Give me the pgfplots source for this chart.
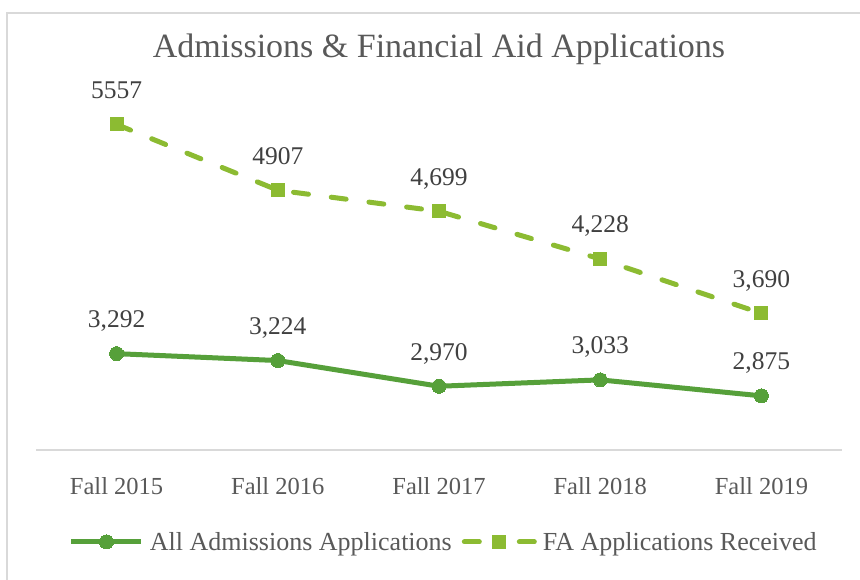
\documentclass[border=0pt]{standalone}
\usepackage{pgfplots}
\pgfplotsset{compat=1.18}
\usepackage{pgfplotstable}
\usepackage{fontspec}
\setmainfont{Liberation Serif}
\definecolor{adm}{RGB}{86,160,58}
\definecolor{fa}{RGB}{140,187,50}
\definecolor{txt}{RGB}{64,64,64}
\definecolor{ttl}{RGB}{89,89,89}
\definecolor{framec}{RGB}{217,217,217}

\pgfplotsset{
  falegend/.style={
    legend image code/.code={
      \draw[mark repeat=2,mark phase=2,##1, dash pattern=on 15pt off 40pt] plot coordinates {(0pt,0pt) (35pt,0pt) (70pt,0pt)};
    }
  }
}

\pgfplotstableread{
x y lab
0 3292 3,292
1 3224 3,224
2 2970 2,970
3 3033 3,033
4 2875 2,875
}\admtable

\pgfplotstableread{
x y lab
0 5557 5557
1 4907 4907
2 4699 4,699
3 4228 4,228
4 3690 3,690
}\fatable

\begin{document}
\begin{tikzpicture}
\useasboundingbox (0,0) rectangle (860pt,-579pt);
\fill[white] (0,0) rectangle (860pt,-579pt);
\draw[framec, line width=1.5pt] (7pt,-600pt) -- (7pt,-13pt) -- (900pt,-13pt);
\node[text=ttl, font=\fontsize{34}{40}\selectfont, anchor=base, inner sep=0pt] at (439pt,-57pt) {Admissions \& Financial Aid Applications};
\begin{axis}[
 at={(36pt,-450pt)}, anchor=south west,
 scale only axis, width=806pt, height=370.4pt,
 xmin=-0.5, xmax=4.5, ymin=2340, ymax=6000,
 axis x line*=bottom, axis y line=none,
 x axis line style={framec, line width=1.5pt},
 ytick=\empty,
 xtick={0,1,2,3,4},
 xticklabels={Fall 2015,Fall 2016,Fall 2017,Fall 2018,Fall 2019},
 major tick length=0pt,
 xticklabel style={anchor=base, yshift=-44pt, inner sep=0pt, text=ttl, font=\fontsize{24.5}{28}\selectfont},
 clip=false,
 nodes near coords, point meta=explicit symbolic,
 every node near coord/.append style={anchor=base, yshift=26pt, inner sep=0pt, text=txt, font=\fontsize{25.5}{30}\selectfont},
 legend columns=2,
 legend cell align=left,
 legend style={at={(0.506,-0.248)}, anchor=center, draw=none, fill=none,
   font=\fontsize{26}{30}\selectfont, text=ttl,
   /tikz/every odd column/.append style={column sep=4pt},
   /tikz/every even column/.append style={column sep=8pt}},
 legend image code/.code={
   \draw[mark repeat=2,mark phase=2,#1] plot coordinates {(0pt,0pt) (35pt,0pt) (70pt,0pt)};
 },
]
\addplot[adm, line width=5pt, line join=round, mark=*, mark size=7pt, mark options={solid, fill=adm, draw=adm, line width=0pt}]
  table[x=x, y=y, meta=lab] {\admtable};
\addlegendentry{All Admissions Applications}
\addplot[fa, line width=5pt, line cap=round, dash pattern=on 15pt off 23pt, mark=square*, mark size=6.5pt, mark options={solid, fill=fa, draw=fa, line width=0pt}, falegend]
  table[x=x, y=y, meta=lab] {\fatable};
\addlegendentry{FA Applications Received}
\end{axis}
\end{tikzpicture}
\end{document}
